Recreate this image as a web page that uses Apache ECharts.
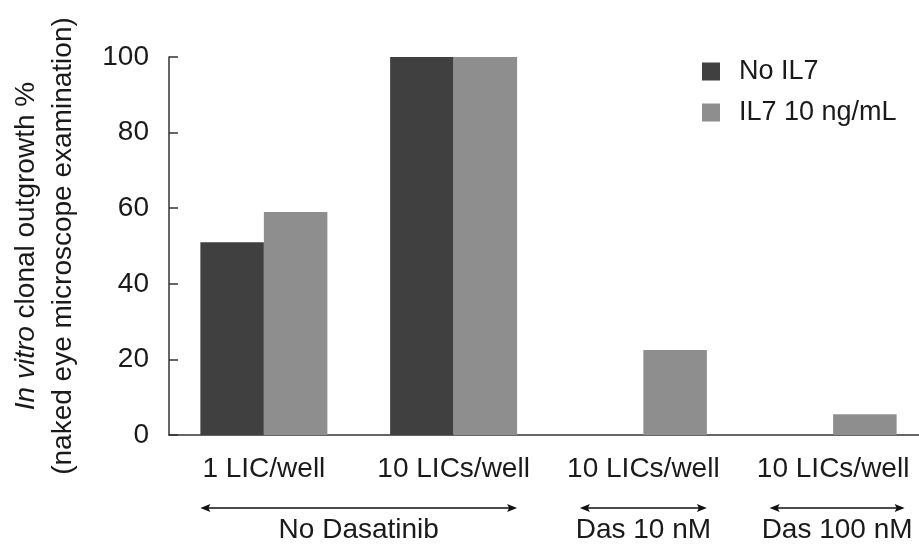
<!DOCTYPE html>
<html>
<head>
<meta charset="utf-8">
<script src="https://cdn.jsdelivr.net/npm/echarts@6/dist/echarts.min.js"></script>
<style>html,body{margin:0;padding:0;background:#fff}#c{width:919px;height:547px}</style>
</head>
<body>
<div id="c"></div>
<script>
const categories = ['1 LIC/well', '10 LICs/well', '10 LICs/well', '10 LICs/well'];
const seriesNames = ['No IL7', 'IL7 10 ng/mL'];
const noIL7 = [51, 100, 0, 0];
const il7 = [59, 100, 22.5, 5.5];
const yTicks = [0, 20, 40, 60, 80, 100];
const groupLabels = ['No Dasatinib', 'Das 10 nM', 'Das 100 nM'];
const groupSpans = [[0, 1], [2, 2], [3, 3]];

const FONT = '"Liberation Sans", Arial, Helvetica, sans-serif';
const TXT = '#1a1a1a';
const chart = echarts.init(document.getElementById('c'), null, {renderer: 'canvas'});

// category positions on a numeric base axis (the last band runs past the right edge)
const catIdx = categories.map((_, i) => i);
const GRID_LEFT = 168, BAND = 190;
const xMax = -0.5 + (919 - GRID_LEFT) / BAND;

const option = {
  animation: false,
  backgroundColor: '#fff',
  textStyle: {fontFamily: FONT},
  grid: {left: GRID_LEFT, top: 57, bottom: 112, right: 0, containLabel: false},
  legend: {
    orient: 'vertical', left: 697, top: 53,
    itemWidth: 18, itemHeight: 18, itemGap: 14,
    icon: 'rect',
    textStyle: {fontSize: 27, color: TXT, fontFamily: FONT, padding: [0, 0, 0, 14]},
    data: seriesNames
  },
  xAxis: {
    type: 'value',
    min: -0.5, max: xMax,
    splitLine: {show: false},
    axisLine: {show: true, onZero: false, lineStyle: {color: '#333', width: 1.5}},
    axisTick: {show: false},
    axisLabel: {
      fontSize: 28, color: TXT, margin: 20, fontFamily: FONT,
      customValues: catIdx,
      formatter: v => categories[Math.round(v)] || ''
    }
  },
  yAxis: {
    type: 'value',
    min: yTicks[0], max: yTicks[yTicks.length - 1], interval: 20,
    splitLine: {show: false},
    axisLine: {show: true, onZero: false, lineStyle: {color: '#333', width: 1.5}},
    axisTick: {show: true, inside: true, length: 9, lineStyle: {color: '#333', width: 1.5}},
    axisLabel: {fontSize: 28, color: TXT, margin: 20, fontFamily: FONT},
    name: '{it|In vitro}{n| clonal outgrowth %}\n{n|(naked eye microscope examination)}',
    nameLocation: 'middle',
    nameGap: 87,
    nameTextStyle: {
      fontSize: 28, color: TXT, fontFamily: FONT, lineHeight: 37,
      rich: {
        it: {fontSize: 28, fontStyle: 'italic', color: TXT, fontFamily: FONT, lineHeight: 37},
        n: {fontSize: 28, color: TXT, fontFamily: FONT, lineHeight: 37}
      }
    }
  },
  series: [
    {name: seriesNames[0], type: 'bar', data: noIL7.map((v, i) => [catIdx[i], v]),
     barWidth: 63.5, barGap: '0%',
     itemStyle: {color: '#404040'}},
    {name: seriesNames[1], type: 'bar', data: il7.map((v, i) => [catIdx[i], v]),
     barWidth: 63.5, barGap: '0%',
     itemStyle: {color: '#8e8e8e'}}
  ]
};
chart.setOption(option);

// group annotations beneath the axis, positioned from the base axis scale
const barW = 63.5;
const px = i => chart.convertToPixel({xAxisIndex: 0}, i);
const arrowY = 508, labelY = 530, head = 10, hw = 4;
const graphics = [];
groupSpans.forEach((span, i) => {
  const xl = px(span[0]) - barW;
  const xr = px(span[1]) + barW + (i === 2 ? 8 : 0);
  graphics.push({type: 'line', shape: {x1: xl + 3, y1: arrowY, x2: xr - 3, y2: arrowY},
    style: {stroke: '#111', lineWidth: 1.5}});
  graphics.push({type: 'polygon', shape: {points: [[xl, arrowY], [xl + head, arrowY - hw], [xl + head - 2, arrowY], [xl + head, arrowY + hw]]},
    style: {fill: '#111'}});
  graphics.push({type: 'polygon', shape: {points: [[xr, arrowY], [xr - head, arrowY - hw], [xr - head + 2, arrowY], [xr - head, arrowY + hw]]},
    style: {fill: '#111'}});
  graphics.push({type: 'text', x: (xl + xr) / 2, y: labelY,
    style: {text: groupLabels[i], font: '28px ' + FONT, fill: TXT, textAlign: 'center', textVerticalAlign: 'middle'}});
});
chart.setOption({graphic: graphics});
</script>
</body>
</html>
